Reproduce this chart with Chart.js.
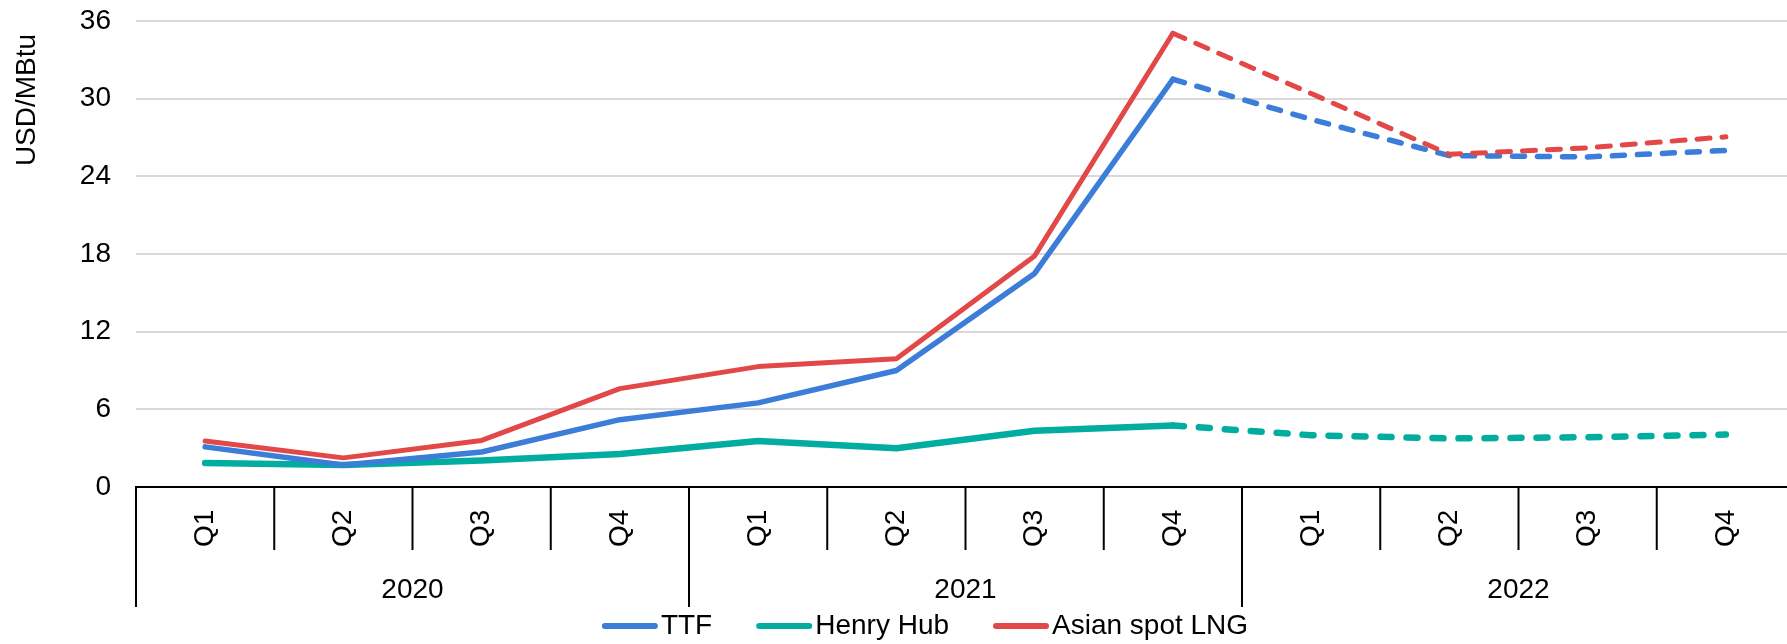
<!DOCTYPE html>
<html>
<head>
<meta charset="utf-8">
<title>Gas prices</title>
<script src="https://cdn.jsdelivr.net/npm/chart.js@4.4.1/dist/chart.umd.min.js"></script>
<style>
  html, body { margin: 0; padding: 0; background: #fff; overflow: hidden; }
  #wrap { width: 1795px; height: 644px; position: relative; }
</style>
</head>
<body>
<div id="wrap"><canvas id="priceChart"></canvas></div>
<script>
// data (USD/MBtu), 2022 values are forecasts (dashed)
const quarters = ['Q1', 'Q2', 'Q3', 'Q4', 'Q1', 'Q2', 'Q3', 'Q4', 'Q1', 'Q2', 'Q3', 'Q4'];
const years = ['2020', '2021', '2022'];
const ttf = [3.1, 1.7, 2.7, 5.2, 6.5, 9.0, 16.5, 31.5, 28.4, 25.6, 25.5, 26.0];
const henryHub = [1.85, 1.7, 2.05, 2.55, 3.55, 3.0, 4.35, 4.75, 4.0, 3.75, 3.85, 4.05];
const asianLng = [3.55, 2.25, 3.6, 7.6, 9.3, 9.9, 17.85, 35.05, 30.4, 25.7, 26.2, 27.05];
const yTicks = [0, 6, 12, 18, 24, 30, 36];
const forecastFrom = 7; // segments after Q4 2021 are dashed

const FONT = '"Liberation Sans", Arial, sans-serif';

function dashed(pattern) {
  return ctx => ctx.p0DataIndex >= forecastFrom ? pattern : undefined;
}

// x axis labels, separators, y title and legend are drawn here
const axisDecor = {
  id: 'axisDecor',
  afterDraw(chart) {
    const { ctx, chartArea } = chart;
    const x = chart.scales.x;
    const n = quarters.length;
    const half = (x.getPixelForValue(1) - x.getPixelForValue(0)) / 2;
    const b = chartArea.bottom;
    ctx.save();
    ctx.strokeStyle = '#000';
    ctx.lineWidth = 2;
    for (let i = 0; i <= n; i++) {
      const bx = i < n ? x.getPixelForValue(i) - half : x.getPixelForValue(n - 1) + half;
      ctx.beginPath();
      ctx.moveTo(bx, b);
      ctx.lineTo(bx, b + (i % 4 === 0 ? 120 : 63));
      ctx.stroke();
    }
    ctx.fillStyle = '#000';
    ctx.font = '28px ' + FONT;
    for (let i = 0; i < n; i++) {
      ctx.save();
      ctx.translate(x.getPixelForValue(i), b + 60);
      ctx.rotate(-Math.PI / 2);
      ctx.textAlign = 'left';
      ctx.textBaseline = 'middle';
      ctx.fillText(quarters[i], 0, 0);
      ctx.restore();
    }
    ctx.textAlign = 'center';
    ctx.textBaseline = 'middle';
    years.forEach((yr, j) => {
      const cx = (x.getPixelForValue(4 * j) + x.getPixelForValue(4 * j + 3)) / 2;
      ctx.fillText(yr, cx, b + 103);
    });

    // y axis title, near the top
    ctx.save();
    ctx.translate(27, 100);
    ctx.rotate(-Math.PI / 2);
    ctx.fillText('USD/MBtu', 0, 0);
    ctx.restore();

    // legend
    const items = chart.data.datasets.map(d => ({ text: d.label, color: d.borderColor }));
    const lineW = 56, gapText = 3, gapItem = 44;
    let total = 0;
    items.forEach((it, k) => {
      it.w = ctx.measureText(it.text).width;
      total += lineW + gapText + it.w + (k ? gapItem : 0);
    });
    let lx = 925 - total / 2;
    const ly = b + 139;
    ctx.textAlign = 'left';
    ctx.lineCap = 'round';
    items.forEach(it => {
      ctx.strokeStyle = it.color;
      ctx.lineWidth = 6;
      ctx.beginPath();
      ctx.moveTo(lx + 3, ly);
      ctx.lineTo(lx + lineW - 3, ly);
      ctx.stroke();
      ctx.fillStyle = '#000';
      ctx.fillText(it.text, lx + lineW + gapText, ly);
      lx += lineW + gapText + it.w + gapItem;
    });
    ctx.restore();
  }
};

new Chart(document.getElementById('priceChart'), {
  type: 'line',
  data: {
    labels: quarters,
    datasets: [
      {
        label: 'TTF',
        data: ttf,
        borderColor: '#3b7dd8',
        backgroundColor: '#3b7dd8',
        borderWidth: 5.5,
        order: 1,
        segment: { borderDash: dashed([12, 13]) }
      },
      {
        label: 'Henry Hub',
        data: henryHub,
        borderColor: '#00ad9f',
        backgroundColor: '#00ad9f',
        borderWidth: 6.5,
        order: 2,
        segment: { borderDash: dashed([11, 15]) }
      },
      {
        label: 'Asian spot LNG',
        data: asianLng,
        borderColor: '#e34848',
        backgroundColor: '#e34848',
        borderWidth: 5,
        order: 0,
        segment: { borderDash: dashed([13, 12]) }
      }
    ]
  },
  options: {
    responsive: true,
    maintainAspectRatio: false,
    animation: false,
    layout: { padding: { top: 21, right: 0, bottom: 149, left: 0 } },
    elements: {
      point: { radius: 0, hoverRadius: 0 },
      line: { tension: 0, borderCapStyle: 'round', borderJoinStyle: 'round', fill: false }
    },
    plugins: {
      legend: { display: false },
      tooltip: { enabled: false }
    },
    scales: {
      x: {
        type: 'category',
        offset: true,
        grid: { display: false },
        ticks: { display: false },
        border: { display: true, color: '#000', width: 2 }
      },
      y: {
        min: 0,
        max: 36,
        afterBuildTicks: s => { s.ticks = yTicks.map(v => ({ value: v })); },
        afterFit: s => { s.width = 136; s.paddingTop = 0; s.paddingBottom = 0; },
        grid: {
          color: c => c.tick && c.tick.value === 0 ? 'rgba(0,0,0,0)' : '#d9d9d9',
          lineWidth: 2,
          drawTicks: false
        },
        border: { display: false },
        ticks: {
          padding: 25,
          color: '#000',
          font: { family: FONT, size: 28 }
        }
      }
    }
  },
  plugins: [axisDecor]
});
</script>
</body>
</html>
